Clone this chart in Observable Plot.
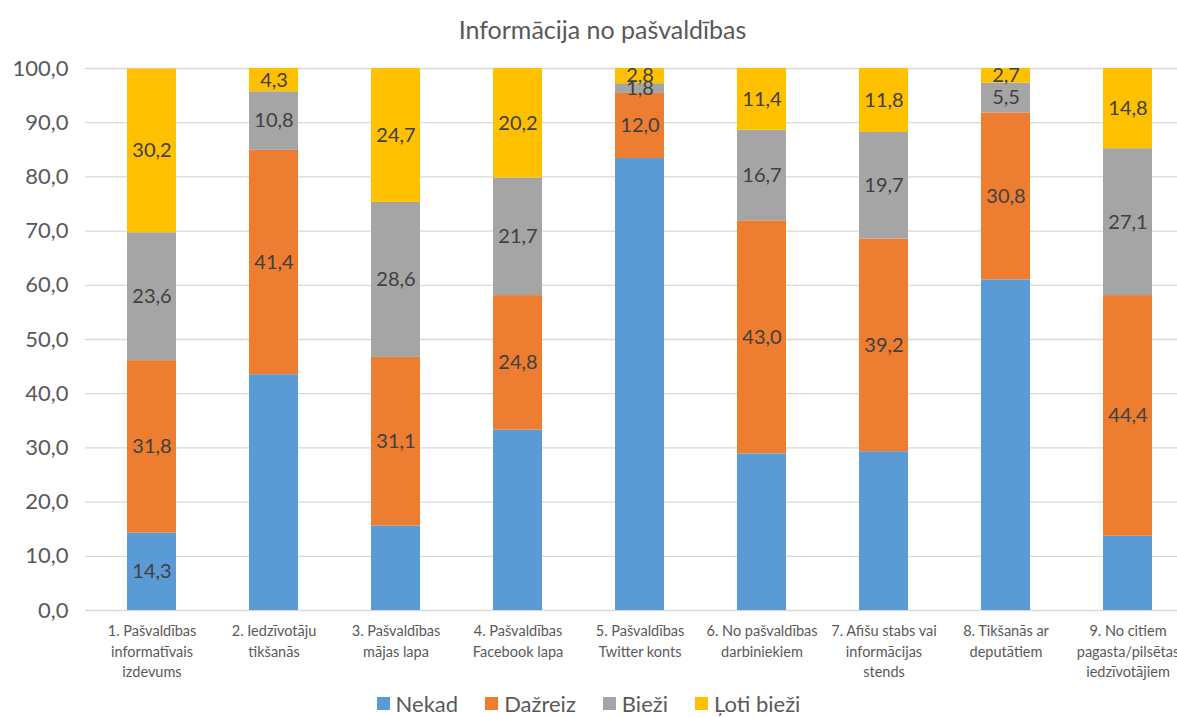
<!DOCTYPE html>
<html>
<head>
<meta charset="utf-8">
<script src="https://cdn.jsdelivr.net/npm/d3@7"></script>
<script src="https://cdn.jsdelivr.net/npm/@observablehq/plot@0.6"></script>
<style>
  html, body { margin: 0; padding: 0; background: #fff; overflow: hidden; }
  body { width: 1177px; height: 717px; font-family: Lato, "Open Sans", sans-serif; }
  #title { height: 50px; line-height: 58px; text-align: center; font-size: 25px; color: #595959; padding-left: 28px; }
  #chart svg { display: block; overflow: hidden; max-width: none; }
  #legend { display: flex; justify-content: center; align-items: center; gap: 27px; font-size: 22px; color: #595959; height: 27px; margin-left: 0px; }
  #legend .item { display: flex; align-items: center; }
  #legend .sw { width: 13px; height: 13px; margin-right: 6px; display: inline-block; }
</style>
</head>
<body>
<div id="title">Informācija no pašvaldības</div>
<div id="chart"></div>
<div id="legend"></div>
<script>
const categories = [
  "1. Pašvaldības\ninformatīvais\nizdevums",
  "2. Iedzīvotāju\ntikšanās",
  "3. Pašvaldības\nmājas lapa",
  "4. Pašvaldības\nFacebook lapa",
  "5. Pašvaldības\nTwitter konts",
  "6. No pašvaldības\ndarbiniekiem",
  "7. Afišu stabs vai\ninformācijas\nstends",
  "8. Tikšanās ar\ndeputātiem",
  "9. No citiem\npagasta/pilsētas\niedzīvotājiem"
];
const seriesNames = ["Nekad", "Dažreiz", "Bieži", "Ļoti bieži"];
const colors = ["#5B9BD5", "#ED7D31", "#A5A5A5", "#FFC000"];
const nekad     = [14.3, 43.5, 15.6, 33.3, 83.4, 28.9, 29.3, 61.0, 13.7];
const dazreiz   = [31.8, 41.4, 31.1, 24.8, 12.0, 43.0, 39.2, 30.8, 44.4];
const biezi     = [23.6, 10.8, 28.6, 21.7, 1.8, 16.7, 19.7, 5.5, 27.1];
const lotiBiezi = [30.2, 4.3, 24.7, 20.2, 2.8, 11.4, 11.8, 2.7, 14.8];
const yTicks = [0, 10, 20, 30, 40, 50, 60, 70, 80, 90, 100];

const seriesValues = [nekad, dazreiz, biezi, lotiBiezi];
const data = [];
seriesValues.forEach((vals, si) => {
  vals.forEach((v, ci) => data.push({cat: categories[ci], series: seriesNames[si], value: v, ci}));
});

const fmt = v => v.toFixed(1).replace(".", ",");

const plot = Plot.plot({
  width: 1177,
  height: 640,
  marginTop: 18,
  marginBottom: 80,
  marginLeft: 85,
  marginRight: 0,
  style: {fontFamily: "Lato, 'Open Sans', sans-serif", background: "white"},
  x: {type: "band", domain: categories, range: [88, 1190], paddingInner: 0.6, paddingOuter: 0.3, label: null},
  y: {domain: [0, 100], label: null},
  color: {domain: seriesNames, range: colors},
  marks: [
    Plot.ruleY(yTicks, {stroke: "#D9D9D9", strokeWidth: 1.3}),
    Plot.barY(data, {x: "cat", y: "value", fill: "series", z: "series"}),
    Plot.text(data, Plot.stackY({
      x: "cat", y: "value", z: "series",
      text: d => (d.series === "Nekad" && d.ci !== 0) ? null : fmt(d.value),
      fill: "#404040", fontSize: 20
    })),
    Plot.axisY(yTicks, {tickSize: 0, tickPadding: 17, tickFormat: fmt, fontSize: 22, fill: "#595959", label: null}),
    Plot.axisX({tickSize: 0, tickPadding: 11, fontSize: 14.5, lineHeight: 1.42, fill: "#595959", label: null})
  ]
});
document.getElementById("chart").appendChild(plot);

const legend = document.getElementById("legend");
seriesNames.forEach((s, i) => {
  const it = document.createElement("div");
  it.className = "item";
  it.innerHTML = `<span class="sw" style="background:${colors[i]}"></span><span>${s}</span>`;
  legend.appendChild(it);
});
</script>
</body>
</html>
